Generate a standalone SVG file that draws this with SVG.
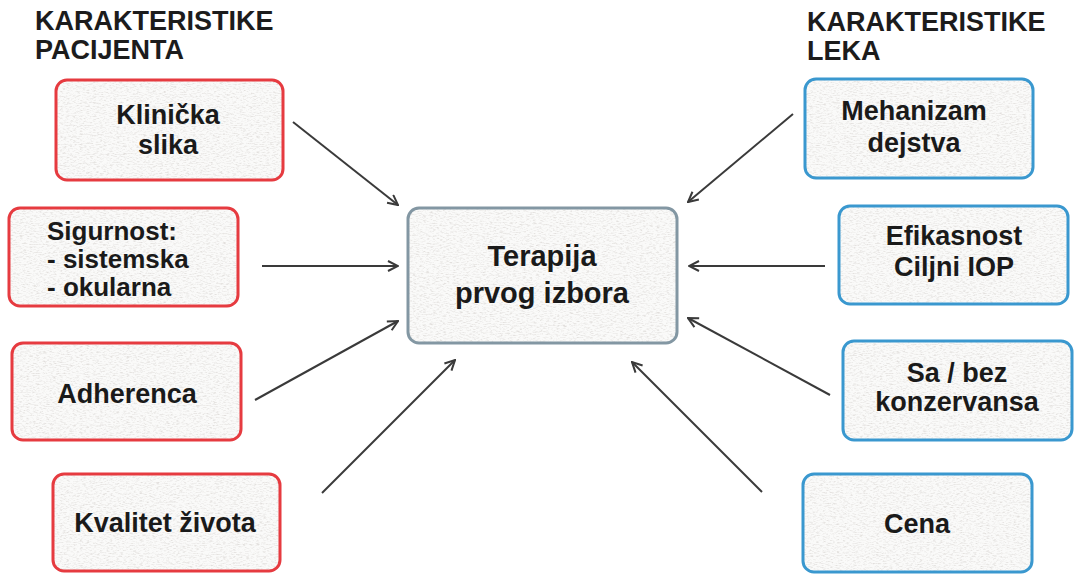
<svg xmlns="http://www.w3.org/2000/svg" width="1076" height="574" viewBox="0 0 1076 574">
  <style>
    .hdr { font-family: "Liberation Sans", Arial, sans-serif; font-weight: bold; font-size: 27px; fill: #1c1c1c; }
    .lbl { font-family: "Liberation Sans", Arial, sans-serif; font-weight: bold; font-size: 27px; fill: #1a1a1a; text-anchor: middle; }
    .lbl-l { text-anchor: start; font-size: 26px; }
    .big { font-size: 29px; }
    .card { fill: #fafaf9; filter: url(#paper); }
    .edge-red { fill: none; stroke: #e63b40; stroke-width: 3; }
    .edge-blue { fill: none; stroke: #3a98cf; stroke-width: 3; }
    .edge-grey { fill: none; stroke: #8397a3; stroke-width: 3; }
    .conn { stroke: #3a3a3a; stroke-width: 2; fill: none; marker-end: url(#head); }
  </style>
  <defs>
    <!-- grainy paper surface for the cards -->
    <filter id="paper" x="0" y="0" width="100%" height="100%">
      <feTurbulence type="fractalNoise" baseFrequency="0.3 0.9" numOctaves="3" seed="7" result="noise"/>
      <feColorMatrix in="noise" type="matrix" values="0 0 0 0 0.76  0 0 0 0 0.74  0 0 0 0 0.72  2.6 0 0 0 -1.2" result="grain"/>
      <feComposite in="grain" in2="SourceGraphic" operator="in" result="grainIn"/>
      <feMerge>
        <feMergeNode in="SourceGraphic"/>
        <feMergeNode in="grainIn"/>
      </feMerge>
    </filter>
    <!-- open chevron arrowhead -->
    <marker id="head" viewBox="0 0 12 12" refX="11" refY="6" markerWidth="12" markerHeight="12" markerUnits="userSpaceOnUse" orient="auto">
      <path d="M1,1 L11,6 L1,11" fill="none" stroke="#3a3a3a" stroke-width="2"/>
    </marker>
  </defs>

  <rect width="1076" height="574" fill="#ffffff"/>

  <!-- column headings -->
  <g id="hdr-pacijent">
    <text class="hdr" x="35" y="30">KARAKTERISTIKE</text>
    <text class="hdr" x="35" y="59">PACIJENTA</text>
  </g>
  <g id="hdr-lek">
    <text class="hdr" x="807" y="31">KARAKTERISTIKE</text>
    <text class="hdr" x="807" y="60">LEKA</text>
  </g>

  <!-- connectors -->
  <g id="connectors">
    <line class="conn" x1="293" y1="122" x2="398" y2="205"/>
    <line class="conn" x1="262" y1="266" x2="398" y2="266"/>
    <line class="conn" x1="255" y1="400" x2="398" y2="321"/>
    <line class="conn" x1="322" y1="493" x2="455" y2="360"/>
    <line class="conn" x1="793" y1="114" x2="688" y2="202"/>
    <line class="conn" x1="825" y1="266" x2="689" y2="266"/>
    <line class="conn" x1="830" y1="395" x2="688" y2="318"/>
    <line class="conn" x1="762" y1="492" x2="632" y2="362"/>
  </g>

  <!-- central node -->
  <g id="terapija">
    <rect class="card" x="408" y="208" width="269" height="135" rx="11"/>
    <rect class="edge-grey" x="408" y="208" width="269" height="135" rx="11"/>
    <text class="lbl big" x="542" y="266">Terapija</text>
    <text class="lbl big" x="542" y="303">prvog izbora</text>
  </g>

  <!-- patient characteristics -->
  <g id="klinicka-slika">
    <rect class="card" x="56" y="80" width="227" height="100" rx="11"/>
    <rect class="edge-red" x="56" y="80" width="227" height="100" rx="11"/>
    <text class="lbl" x="168" y="124">Klinička</text>
    <text class="lbl" x="168" y="154">slika</text>
  </g>
  <g id="sigurnost">
    <rect class="card" x="9" y="208" width="229" height="98" rx="11"/>
    <rect class="edge-red" x="9" y="208" width="229" height="98" rx="11"/>
    <text class="lbl lbl-l" x="47" y="240">Sigurnost:</text>
    <text class="lbl lbl-l" x="47" y="268">- sistemska</text>
    <text class="lbl lbl-l" x="47" y="296">- okularna</text>
  </g>
  <g id="adherenca">
    <rect class="card" x="12" y="343" width="229" height="97" rx="11"/>
    <rect class="edge-red" x="12" y="343" width="229" height="97" rx="11"/>
    <text class="lbl" x="127" y="403">Adherenca</text>
  </g>
  <g id="kvalitet-zivota">
    <rect class="card" x="53" y="474" width="227" height="97" rx="11"/>
    <rect class="edge-red" x="53" y="474" width="227" height="97" rx="11"/>
    <text class="lbl" x="165" y="532">Kvalitet života</text>
  </g>

  <!-- drug characteristics -->
  <g id="mehanizam-dejstva">
    <rect class="card" x="805" y="79" width="228" height="99" rx="11"/>
    <rect class="edge-blue" x="805" y="79" width="228" height="99" rx="11"/>
    <text class="lbl" x="914" y="120">Mehanizam</text>
    <text class="lbl" x="914" y="152">dejstva</text>
  </g>
  <g id="efikasnost">
    <rect class="card" x="839" y="206" width="229" height="98" rx="11"/>
    <rect class="edge-blue" x="839" y="206" width="229" height="98" rx="11"/>
    <text class="lbl" x="954" y="245">Efikasnost</text>
    <text class="lbl" x="954" y="276">Ciljni IOP</text>
  </g>
  <g id="konzervans">
    <rect class="card" x="843" y="341" width="229" height="99" rx="11"/>
    <rect class="edge-blue" x="843" y="341" width="229" height="99" rx="11"/>
    <text class="lbl" x="957" y="382">Sa / bez</text>
    <text class="lbl" x="957" y="411">konzervansa</text>
  </g>
  <g id="cena">
    <rect class="card" x="803" y="474" width="229" height="98" rx="11"/>
    <rect class="edge-blue" x="803" y="474" width="229" height="98" rx="11"/>
    <text class="lbl" x="917" y="533">Cena</text>
  </g>
</svg>
